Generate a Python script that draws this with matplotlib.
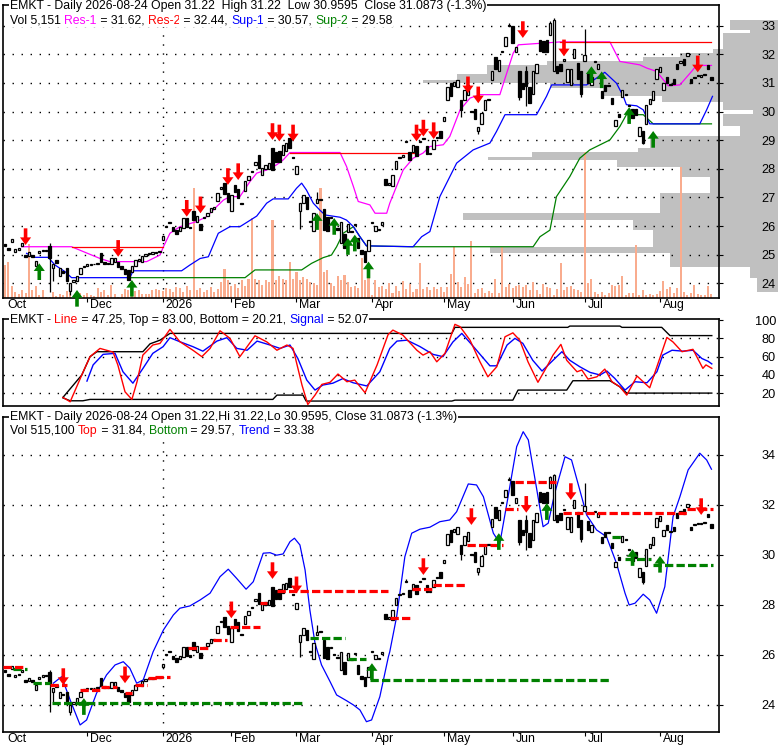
import matplotlib
matplotlib.use('Agg')
import matplotlib.pyplot as plt
import matplotlib.transforms as mtransforms
import numpy as np
import pandas as pd

plt.rcParams['font.family'] = ['Liberation Sans', 'DejaVu Sans']

# trading calendar (US holidays removed)
holidays = ['2025-11-27', '2025-12-25', '2026-01-01', '2026-01-19', '2026-02-16',
            '2026-04-03', '2026-05-25', '2026-06-19', '2026-07-03']
dates = pd.bdate_range('2025-10-27', '2026-08-24')
dates = dates[~dates.isin(pd.to_datetime(holidays))]

opens = [25.38, 25.22, 25.45, 25.10, 25.18, 25.30, 25.00, 24.95, 25.00, 24.60,
         25.05, 25.12, 25.18, 25.30, 24.53, 24.80, 24.27, 24.45, 24.53, 23.73,
         24.05, 24.07, 24.33, 24.58, 24.62, 24.64, 24.66, 24.68, 25.07, 24.75,
         24.72, 24.67, 24.75, 24.73, 24.60, 24.49, 24.47, 24.40, 24.60, 24.78,
         24.76, 24.95, 25.02, 25.04, 25.06, 25.08, 25.53, 25.98, 26.12, 25.96,
         25.87, 25.83, 25.93, 26.30, 25.98, 26.52, 26.13, 26.09, 26.28, 26.36,
         26.49, 26.61, 26.89, 27.31, 27.50, 27.16, 26.53, 27.43, 27.30, 26.82,
         27.24, 27.60, 27.88, 28.15, 28.47, 27.80, 28.00, 28.00, 28.73, 28.60,
         28.63, 28.49, 28.63, 29.07, 28.42, 27.83, 26.53, 26.80, 27.00, 26.17,
         25.83, 26.80, 26.95, 26.60, 26.33, 26.28, 26.02, 25.92, 25.40, 25.73,
         25.80, 25.82, 26.05, 25.60, 25.16, 25.13, 25.13, 26.11, 25.83, 25.85,
         26.03, 27.64, 27.45, 27.40, 28.00, 28.38, 28.43, 28.93, 28.60, 28.60,
         28.80, 28.93, 29.05, 28.80, 28.53, 28.70, 29.08, 29.33, 29.67, 30.40,
         31.00, 30.90, 30.85, 30.40, 30.40, 30.57, 30.02, 30.10, 29.33, 29.56,
         30.04, 30.41, 31.10, 31.90, 31.40, 32.08, 32.30, 32.98, 32.97, 32.07,
         31.40, 31.00, 31.40, 30.87, 30.60, 31.33, 32.50, 32.47, 32.50, 32.67,
         31.40, 31.60, 31.67, 31.78, 31.04, 30.93, 31.87, 31.70, 31.40, 31.77,
         31.36, 30.93, 31.73, 31.50, 30.73, 30.93, 30.92, 30.47, 29.50, 29.90,
         30.50, 30.62, 30.22, 30.09, 30.10, 29.13, 29.33, 29.56, 30.27, 30.40,
         31.13, 31.37, 30.76, 31.20, 30.95, 31.13, 31.67, 31.71, 31.83, 31.93,
         31.13, 31.18, 31.25, 31.22, 31.28, 31.62, 31.22]
closes = [25.32, 25.15, 25.55, 25.20, 25.25, 25.40, 24.92, 25.08, 24.92, 24.78,
          25.12, 25.18, 25.14, 24.87, 24.67, 24.72, 24.53, 24.38, 24.07, 24.00,
          24.12, 24.27, 24.53, 24.62, 24.66, 24.67, 24.68, 24.72, 24.76, 24.68,
          24.67, 24.90, 24.90, 24.57, 24.50, 24.33, 24.13, 24.60, 24.80, 24.84,
          24.97, 25.02, 25.06, 25.08, 25.10, 25.12, 25.64, 26.02, 26.16, 25.83,
          25.73, 25.96, 26.30, 25.96, 25.92, 26.20, 26.36, 25.88, 26.32, 26.47,
          26.63, 26.65, 27.16, 27.35, 27.13, 26.84, 27.07, 27.20, 26.97, 26.78,
          27.56, 27.76, 27.92, 28.25, 28.04, 28.04, 28.13, 28.20, 27.96, 28.23,
          28.23, 28.84, 28.89, 28.73, 28.38, 28.09, 26.80, 27.07, 26.60, 26.13,
          26.47, 26.93, 26.91, 25.87, 25.83, 26.32, 25.98, 25.88, 26.13, 25.24,
          26.07, 25.78, 26.09, 25.24, 25.03, 24.76, 25.50, 26.15, 26.00, 25.89,
          26.13, 27.43, 27.52, 27.80, 28.27, 28.42, 28.47, 28.97, 28.30, 28.84,
          28.44, 28.97, 29.09, 28.53, 28.57, 29.00, 29.12, 29.07, 29.80, 30.84,
          30.53, 31.03, 31.10, 30.04, 30.76, 30.93, 29.98, 29.73, 29.47, 29.96,
          30.40, 30.45, 31.43, 31.47, 31.80, 32.12, 32.60, 33.02, 32.40, 32.27,
          30.50, 30.80, 30.90, 30.30, 31.40, 31.67, 32.10, 32.07, 32.07, 33.10,
          33.20, 31.33, 31.40, 31.82, 31.50, 31.50, 32.20, 31.13, 30.63, 31.96,
          31.00, 31.20, 31.77, 31.67, 30.49, 30.73, 30.88, 30.27, 29.70, 29.80,
          30.76, 30.58, 30.18, 29.77, 29.87, 29.47, 28.90, 30.23, 30.44, 30.70,
          31.47, 31.56, 31.00, 31.00, 30.91, 30.97, 31.47, 31.75, 31.63, 32.03,
          31.00, 31.22, 31.28, 31.26, 31.32, 31.50, 31.09]
# days with wicks reaching beyond the body
wick_high = {13: 25.40, 91: 27.20, 117: 29.02, 147: 33.10, 152: 31.60,
             159: 33.15, 160: 33.25, 169: 32.87}
wick_low = {13: 23.70, 14: 24.10, 19: 23.60, 86: 25.90, 133: 29.80, 138: 29.20,
            150: 30.40, 152: 30.20, 168: 30.50, 186: 28.85}

volume = [33, 36, 12, 6, 4, 8, 5, 54, 8, 12, 3, 8, 1, 1, 6, 2, 4, 3, 7, 9,
          3, 1, 5, 3, 5, 3, 2, 10, 6, 8, 3, 13, 4, 1, 4, 9, 8, 4, 7, 8,
          4, 4, 4, 8, 9, 8, 7, 10, 9, 6, 11, 10, 6, 12, 8, 110, 8, 10, 6, 8,
          11, 6, 9, 16, 29, 18, 12, 14, 10, 18, 12, 19, 80, 19, 18, 13, 18, 16, 78, 18,
          22, 19, 18, 36, 19, 26, 18, 21, 19, 16, 15, 13, 110, 26, 28, 15, 12, 22, 18, 23,
          16, 11, 12, 10, 40, 18, 23, 3, 18, 11, 12, 9, 15, 5, 12, 7, 17, 9, 14, 6,
          9, 35, 9, 11, 8, 11, 9, 11, 6, 11, 24, 51, 16, 11, 21, 14, 57, 5, 9, 10,
          5, 7, 5, 19, 5, 51, 11, 14, 10, 12, 13, 11, 13, 8, 16, 8, 4, 14, 11, 10,
          3, 9, 35, 8, 11, 12, 9, 8, 6, 146, 15, 19, 6, 4, 6, 3, 5, 13, 12, 13,
          22, 3, 5, 5, 53, 3, 8, 3, 4, 3, 4, 7, 17, 9, 11, 5, 10, 131, 6, 3,
          5, 13, 4, 3, 3, 12, 4]

# volume at price (right-hand profile)
prof_edges = [23.7, 24.2, 24.58, 25.05, 25.28, 25.86, 26.2, 26.45, 27.15, 27.73, 28.08,
              28.3, 28.43, 28.6, 28.72, 29.13, 29.48, 29.9, 30.06, 30.35, 30.53, 30.82,
              31.0, 31.1, 31.3, 31.63, 31.75, 31.9, 32.04, 32.2, 32.74, 32.83, 33.2]
prof_vol = [21, 28, 108, 288, 125, 145, 315, 118, 68, 98, 161, 290, 246, 140, 128, 38,
            55, 25, 55, 116, 175, 228, 355, 321, 291, 231, 135, 98, 65, 55, 28, 48]

# support / resistance lines (day, price)
res1_x = [4.9, 19.4, 27.7, 30.6, 41.3, 45.2, 46.2, 48.1, 51.0, 55.9, 58.8, 61.7, 63.7, 65.6,
          68.5, 71.4, 73.4, 76.3, 79.2, 81.1, 83.1, 97.7, 99.6, 101.6, 103.0, 106.4, 107.9,
          111.3, 112.2, 116.1, 119.0, 121.9, 123.9, 127.8, 129.7, 132.7, 135.6, 138.5, 144.3,
          146.3, 148.2, 149.7, 161.8, 176.4, 179.3, 185.1, 187.1, 190.0, 193.4, 196.8, 200.2,
          201.6, 206.0]
res1_y = [25.28, 25.28, 24.87, 24.76, 24.76, 24.99, 25.28, 25.75, 25.98, 26.16, 26.33, 26.68,
          26.91, 27.03, 27.03, 27.55, 27.85, 27.96, 28.14, 28.31, 28.57, 28.57, 28.08, 27.38,
          26.86, 26.74, 26.45, 26.45, 26.8, 27.96, 28.37, 28.55, 28.78, 28.84, 29.13, 30.06,
          30.47, 30.59, 30.59, 31.34, 32.04, 32.33, 32.43, 32.43, 31.75, 31.63, 31.52, 31.4,
          30.9, 30.93, 31.4, 31.61, 31.61]
res2_x = [19.4, 46.2, np.nan, 83.1, 120.0, np.nan, 161.8, 206.0]
res2_y = [25.28, 25.28, np.nan, 28.57, 28.57, np.nan, 32.43, 32.43]
sup1_x = [6.3, 8.3, 12.6, 14.6, 17.5, 19.4, 36.4, 37.4, 51.5, 53.9, 56.9, 59.3, 62.2, 65.6,
          68.5, 70.9, 73.4, 76.3, 78.2, 82.6, 85.0, 86.5, 87.9, 89.9, 91.8, 93.3, 97.7, 99.6,
          101.6, 103.5, 105.4, 119.0, 121.5, 123.9, 126.8, 131.7, 136.5, 141.4, 143.3, 145.8,
          155.0, 157.9, 159.4, 169.6, 174.9, 178.3, 180.3, 181.2, 184.2, 186.1, 188.0, 202.6,
          204.6, 206.3]
sup1_y = [25.05, 24.91, 24.91, 24.64, 24.41, 24.2, 24.2, 24.44, 24.44, 24.64, 24.87, 24.93,
          25.75, 25.98, 25.98, 26.16, 26.35, 26.8, 26.95, 26.95, 27.32, 27.5, 27.26, 26.8,
          26.56, 26.39, 26.31, 26.21, 25.98, 25.63, 25.31, 25.28, 25.63, 25.81, 27.03, 28.2,
          28.66, 28.9, 29.3, 29.89, 29.89, 30.53, 30.93, 30.93, 31.37, 30.99, 30.53, 30.24,
          30.2, 30.06, 29.57, 29.57, 30.06, 30.53]
sup2_x = [36.4, 70.0, 72.9, 86.5, 89.4, 92.8, 95.2, 96.7, 98.6, 101.6, 103.5, 105.4, 119.0,
          154.0, 156.0, 158.9, 160.8, 164.7, 167.6, 170.5, 176.4, 179.3, 181.2, 186.1, 189.0,
          206.0]
sup2_y = [24.2, 24.2, 24.47, 24.47, 24.7, 24.9, 24.99, 25.28, 25.75, 25.98, 25.63, 25.31,
          25.28, 25.28, 25.63, 25.86, 27.03, 27.73, 28.37, 28.66, 29.01, 29.48, 29.89, 29.89,
          29.57, 29.57]

# signal arrows (day, price at arrow tip)
top_sell = [(6, 25.34), (33, 24.93), (53, 26.33), (57, 26.45), (65, 27.44), (68, 27.61),
            (78, 29.01), (80, 28.96), (84, 28.96), (120, 28.96), (122, 29.13), (125, 29.04),
            (135, 30.64), (138, 30.29), (151, 32.57), (163, 31.93), (202, 31.37)]
top_buy = [(10, 24.7), (21, 23.77), (37, 24.12), (91, 26.45), (96, 26.28), (100, 25.58),
           (102, 25.7), (106, 24.76), (171, 31.58), (174, 31.4), (182, 30.15), (189, 29.32)]
bot_sell = [(17, 24.8), (35, 24.87), (66, 27.47), (78, 29.04), (85, 28.47), (122, 29.2),
            (136, 31.2), (152, 31.69), (165, 32.2), (203, 31.6)]
bot_buy = [(23, 24.27), (107, 25.67), (144, 30.87), (158, 32.07), (183, 30.23), (191, 29.96)]

# oscillator panel
line_x = [16.9, 19.0, 22.4, 24.8, 27.7, 31.5, 32.9, 35.0, 37.0, 38.5, 40.2, 43.1, 45.2, 48.1,
          51.0, 54.8, 57.4, 59.8, 62.7, 65.6, 68.5, 72.9, 76.4, 79.3, 82.2, 84.0, 86.6, 88.3,
          90.4, 92.4, 94.8, 97.1, 99.7, 102.0, 105.0, 108.5, 111.7, 113.1, 116.0, 120.1, 121.9,
          123.9, 125.9, 128.3, 131.2, 132.7, 135.6, 138.5, 140.8, 143.4, 145.8, 148.1, 150.1,
          152.5, 155.4, 158.0, 159.8, 162.1, 163.8, 166.8, 168.2, 170.0, 172.6, 174.9, 177.0,
          179.3, 181.3, 184.3, 188.0, 193.0, 194.8, 197.4, 200.6, 203.5, 204.4, 206.1]
line_y = [15.5, 10.7, 40, 60, 69, 65, 51, 21.6, 13.3, 32.6, 61.7, 72.7, 74.5, 89.8, 76.3, 67,
          60, 69, 88.3, 80, 60, 82.8, 76, 67, 72.7, 69, 29, 7.8, 18, 29.7, 32, 41, 32.6, 34.4,
          20.6, 51, 84, 89, 83.6, 67, 61.7, 65.4, 54.4, 63.6, 95.3, 92.7, 78, 54.4, 38, 49,
          81.7, 86, 78, 54.4, 32, 49, 61.7, 73.4, 56, 43.5, 45.4, 35.5, 38, 46.4, 32.6, 27, 18,
          38.8, 26, 81, 76, 65.4, 68, 47.2, 51, 47.25]
sig_x = [23.9, 25.7, 28.6, 32.1, 34.4, 37.3, 40.2, 43.1, 46.1, 48.1, 51.0, 54.8, 57.7, 61.8,
         64.7, 67.6, 70.6, 73.5, 77.3, 80.2, 83.1, 85.4, 88.0, 90.4, 92.7, 95.6, 98.5, 101.5,
         105.5, 109.3, 112.2, 114.3, 117.2, 121.0, 124.8, 127.7, 130.6, 133.2, 136.2, 139.1,
         141.4, 143.4, 146.4, 148.7, 151.0, 153.9, 156.6, 159.8, 162.4, 164.7, 167.6, 170.6,
         173.5, 175.5, 177.8, 180.8, 183.7, 187.2, 190.1, 191.8, 194.5, 197.7, 200.6, 203.2,
         205.0, 206.1]
sig_y = [33.3, 51, 62.5, 63.6, 43.5, 31, 47, 63.6, 70.9, 80.7, 76.3, 70.9, 66, 77, 80.7, 69,
         67, 77, 72.7, 69, 72.7, 58, 34.4, 23.5, 29, 31, 36, 31.5, 28, 43.5, 69, 77, 78, 71,
         62.5, 60, 76, 85.4, 72.7, 60, 50, 50, 72.7, 80, 74.5, 56, 44.3, 56, 65.4, 56, 49, 42.8,
         40, 44.3, 36.3, 23.5, 32.6, 31.5, 43.5, 61.7, 67, 66, 67, 58, 55, 52.07]
band_top_x = [16.9, 22.4, 24.8, 26.8, 40.2, 42.3, 45.2, 48.1, 130.3, 131.2, 164.1, 164.7,
              179.3, 179.9, 191.5, 193.9, 206.1]
band_top_y = [15.5, 40, 60, 65.4, 65.4, 74, 78, 85.4, 85.4, 92, 92, 93.4, 93.4, 92, 92, 83, 83]
band_bot_x = [16.9, 19.0, 22.7, 24.8, 78.1, 79.3, 86.9, 87.8, 130.3, 131.2, 148.1, 149.6,
              163.8, 165.6, 176.4, 179.3, 181.3, 206.1]
band_bot_y = [15, 11.8, 11.8, 13.3, 13.3, 18, 18, 11.5, 11.5, 12.5, 12.5, 23.5, 23.5, 33.7,
              33.7, 27, 20.2, 20.2]

# bottom panel: trend envelope and stepped top / bottom levels
trend_x = [14.1, 16.5, 19.0, 21.9, 23.8, 26.7, 29.6, 32.1, 34.5, 36.4, 38.4, 40.3, 43.2, 46.2,
           49.1, 51.0, 53.9, 56.9, 59.8, 62.7, 65.1, 67.5, 70.3, 72.4, 75.3, 77.3, 79.2, 81.1,
           83.1, 84.4, 86.0, 87.5, 88.9, 90.4, 92.3, 94.8, 96.7, 99.6, 101.6, 103.5, 105.4,
           106.9, 109.3, 111.8, 112.2, 114.2, 116.6, 118.6, 121.0, 123.9, 126.8, 129.7, 131.7,
           135.1, 137.5, 139.5, 142.4, 144.3, 146.7, 149.2, 151.1, 152.6, 155.0, 156.9, 158.4,
           160.3, 163.3, 165.2, 167.6, 169.6, 172.5, 175.4, 178.3, 180.8, 182.0, 183.7, 186.1,
           188.0, 190.0, 192.4, 194.8, 196.8, 199.2, 202.6, 204.6, 206.0]
trend_y = [24.87, 25.13, 24.2, 23.2, 23.4, 24.47, 25.2, 25.6, 25.73, 25.47, 24.87, 25.0, 26.13,
           27.0, 27.6, 27.87, 27.96, 28.2, 28.47, 29.13, 29.43, 29.07, 28.63, 28.93, 30.07,
           30.09, 29.99, 30.04, 30.53, 30.67, 30.4, 29.4, 27.8, 26.47, 25.6, 24.93, 24.4, 24.17,
           24.0, 23.8, 23.33, 23.4, 24.33, 25.93, 26.13, 27.53, 29.93, 30.87, 31.03, 31.11,
           31.33, 31.4, 31.73, 32.84, 32.8, 32.33, 30.87, 30.47, 32.33, 34.33, 34.93, 34.6,
           32.67, 31.13, 31.27, 32.47, 33.93, 33.8, 32.6, 31.6, 31.0, 30.73, 29.67, 28.47, 28.0,
           28.07, 28.43, 28.2, 27.67, 28.73, 31.53, 32.33, 33.4, 34.07, 33.8, 33.43]
res_start = [-0.5, 13.0, 22.0, 28.0, 35.0, 38.0, 41.8, 43.7, 53.5, 60.7, 65.6, 74.3, 79.2,
             112.2, 118.6, 124.9, 134.6, 145.8, 148.7, 162.8, 199.0]
res_end = [5.5, 18.0, 27.7, 32.6, 37.0, 41.3, 44.2, 48.1, 59.3, 64.6, 74.3, 76.3, 111.8,
           118.6, 124.9, 134.4, 145.3, 149.7, 160.8, 199.0, 206.5]
res_level = [25.5, 24.8, 24.6, 24.73, 24.47, 24.8, 25.07, 25.12, 26.27, 26.6, 27.11, 28.09,
             28.57, 27.47, 28.63, 28.8, 30.4, 31.83, 32.93, 31.67, 31.84]
sup_start = [2.4, 8.3, 13.6, 88.9, 100.1, 106.4, 176.9, 180.8, 189.0]
sup_end = [6.3, 13.1, 86.5, 99.1, 105.4, 176.4, 180.3, 188.5, 206.5]
sup_level = [25.44, 24.89, 24.07, 26.67, 25.83, 25.0, 30.73, 29.83, 29.59]

RED, GREEN, BLUE, MAG = '#FF0000', '#008000', '#0000FF', '#FF00FF'
FS = 8.8

o = np.array(opens)
c = np.array(closes)
idx = np.arange(len(o))
hi = np.maximum(o, c)
lo = np.minimum(o, c)
for k, v in wick_high.items():
    hi[k] = v
for k, v in wick_low.items():
    lo[k] = v

W, H = 780, 745
fig = plt.figure(figsize=(7.8, 7.45), dpi=100)


def box(x0, y0, x1, y1):
    return [x0 / W, 1 - y1 / H, (x1 - x0) / W, (y1 - y0) / H]


ax_prof = fig.add_axes(box(0, 5, 778, 298))
ax1 = fig.add_axes(box(3, 5, 719, 298))
ax2 = fig.add_axes(box(3, 319.3, 719, 406))
ax3 = fig.add_axes(box(3, 416.7, 719, 731.7))
ax_prof.set_zorder(0)
ax1.set_zorder(1)
ax1.patch.set_alpha(0)

XLIM = (-0.58, 208.2)
TOP_LIM = (23.49, 33.72)

# volume profile behind the price panel
ax_prof.barh(prof_edges[:-1], prof_vol, height=np.diff(prof_edges), left=0, align='edge',
             color='#C0C0C0', edgecolor='none')
ax_prof.set_xlim(778, 0)
ax_prof.set_ylim(*TOP_LIM)
ax_prof.axis('off')


def dotted(ax, levels):
    for lv in levels:
        ax.axhline(lv, color='black', lw=1.0, ls=(0, (1, 5.5)), zorder=1)


def candles(ax):
    up = c >= o
    ax.vlines(idx, lo, hi, color='black', lw=0.9, zorder=4)
    ax.bar(idx[up], np.maximum(c - o, 0.02)[up], bottom=o[up], width=0.7, color='white',
           edgecolor='black', lw=0.9, zorder=5)
    ax.bar(idx[~up], (o - c)[~up], bottom=c[~up], width=0.7, color='black',
           edgecolor='black', lw=0.9, zorder=5)


def arrows(ax, pts, color, down):
    for i, p in pts:
        ax.annotate('', xy=(i, p), xytext=(0, 12 if down else -12), textcoords='offset points',
                    arrowprops=dict(facecolor=color, edgecolor='none', width=2.6,
                                    headwidth=8, headlength=5.5, shrink=0), zorder=7)


def color_text(ax, x, y, parts, fs=FS):
    bb = dict(facecolor='white', edgecolor='none', pad=0.6)
    t = ax.text(x, y, parts[0][0], color=parts[0][1], transform=ax.transAxes, ha='left',
                va='center', fontsize=fs, zorder=10, bbox=bb, clip_on=False)
    for s, col in parts[1:]:
        t = ax.annotate(s, xy=(1, 0), xycoords=t, ha='left', va='bottom', color=col,
                        fontsize=fs, zorder=10, bbox=bb, annotation_clip=False)


# month starts; November is not labelled on the original chart
month_pos = [0] + [k for k in range(1, len(dates))
                   if dates[k].month != dates[k - 1].month and dates[k].month != 11]
month_lab = [('2026' if dates[k].month == 1 else dates[k].strftime('%b')) for k in month_pos]
shift = mtransforms.ScaledTranslation(2 / 72, 0, fig.dpi_scale_trans)


def style(ax, yticks, ylim, xlabels=True):
    ax.set_xlim(*XLIM)
    ax.set_ylim(*ylim)
    for s in ax.spines.values():
        s.set_linewidth(1.2)
    ax.yaxis.tick_right()
    ax.set_yticks(yticks)
    ax.tick_params(axis='y', length=3, width=0.8, pad=38, labelsize=FS + 0.4)
    for lab in ax.get_yticklabels():
        lab.set_horizontalalignment('right')
    if xlabels:
        ax.set_xticks(month_pos)
        ax.set_xticklabels(month_lab)
        ax.tick_params(axis='x', length=3, width=0.8, pad=-2.3, labelsize=FS)
        for lab in ax.get_xticklabels():
            lab.set_horizontalalignment('left')
            lab.set_transform(lab.get_transform() + shift)
        ax.xaxis.get_major_ticks()[0].tick1line.set_visible(False)
    else:
        ax.set_xticks([])


# ---- top panel ----
dotted(ax1, range(24, 34))
ax1.axvline(46, color='black', lw=1.0, ls=(0, (1, 5.5)), zorder=1)
vscale = (TOP_LIM[1] - TOP_LIM[0]) / 293
ax1.bar(idx, np.array(volume) * vscale, bottom=TOP_LIM[0], width=0.6, color='#F9AC8E',
        edgecolor='none', zorder=2)
ax1.plot(sup2_x, sup2_y, color=GREEN, lw=0.9, zorder=3)
ax1.plot(sup1_x, sup1_y, color=BLUE, lw=0.9, zorder=3)
ax1.plot(res1_x, res1_y, color=MAG, lw=0.9, zorder=3)
ax1.plot(res2_x, res2_y, color=RED, lw=0.9, zorder=3)
candles(ax1)
arrows(ax1, top_sell, RED, True)
arrows(ax1, top_buy, GREEN, False)
style(ax1, range(24, 34), TOP_LIM)
color_text(ax1, 0.0098, 0.997,
           [('EMKT - Daily 2026-08-24 Open 31.22  High 31.22  Low 30.9595  Close 31.0873 (-1.3%)', 'black')])
color_text(ax1, 0.0098, 0.947,
           [('Vol 5,151 ', 'black'), ('Res-1', MAG), (' = 31.62, ', 'black'), ('Res-2', RED),
            (' = 32.44, ', 'black'), ('Sup-1', BLUE), (' = 30.57, ', 'black'), ('Sup-2', GREEN),
            (' = 29.58', 'black')])

# ---- oscillator panel ----
dotted(ax2, [20, 40, 60, 80])
ax2.plot(band_top_x, band_top_y, color='black', lw=1.0, zorder=3)
ax2.plot(band_bot_x, band_bot_y, color='black', lw=1.0, zorder=3)
ax2.plot(sig_x, sig_y, color=BLUE, lw=1.0, zorder=4)
ax2.plot(line_x, line_y, color=RED, lw=1.0, zorder=5)
style(ax2, [20, 40, 60, 80, 100], (6.1, 100.8), xlabels=False)
color_text(ax2, 0.0098, 0.992,
           [('EMKT - ', 'black'), ('Line', RED), (' = 47.25, Top = 83.00, Bottom = 20.21, ', 'black'),
            ('Signal', BLUE), (' = 52.07', 'black')])

# ---- bottom panel ----
dotted(ax3, range(24, 35, 2))
ax3.axvline(46, color='black', lw=1.0, ls=(0, (1, 5.5)), zorder=1)
ax3.plot(trend_x, trend_y, color=BLUE, lw=0.9, zorder=3)
candles(ax3)
ax3.hlines(sup_level, sup_start, sup_end, colors=GREEN, lw=2.3, linestyles=[(0, (2.6, 1.0))],
           zorder=6)
ax3.hlines(res_level, res_start, res_end, colors=RED, lw=2.3, linestyles=[(0, (2.6, 1.0))],
           zorder=6)
arrows(ax3, bot_sell, RED, True)
arrows(ax3, bot_buy, GREEN, False)
style(ax3, range(24, 35, 2), (22.93, 35.53))
color_text(ax3, 0.0098, 0.998,
           [('EMKT - Daily 2026-08-24 Open 31.22,Hi 31.22,Lo 30.9595, Close 31.0873 (-1.3%)', 'black')])
color_text(ax3, 0.0098, 0.955,
           [('Vol 515,100 ', 'black'), ('Top', RED), (' = 31.84, ', 'black'), ('Bottom', GREEN),
            (' = 29.57, ', 'black'), ('Trend', BLUE), (' = 33.38', 'black')])

fig.savefig('out.png', dpi=100)
